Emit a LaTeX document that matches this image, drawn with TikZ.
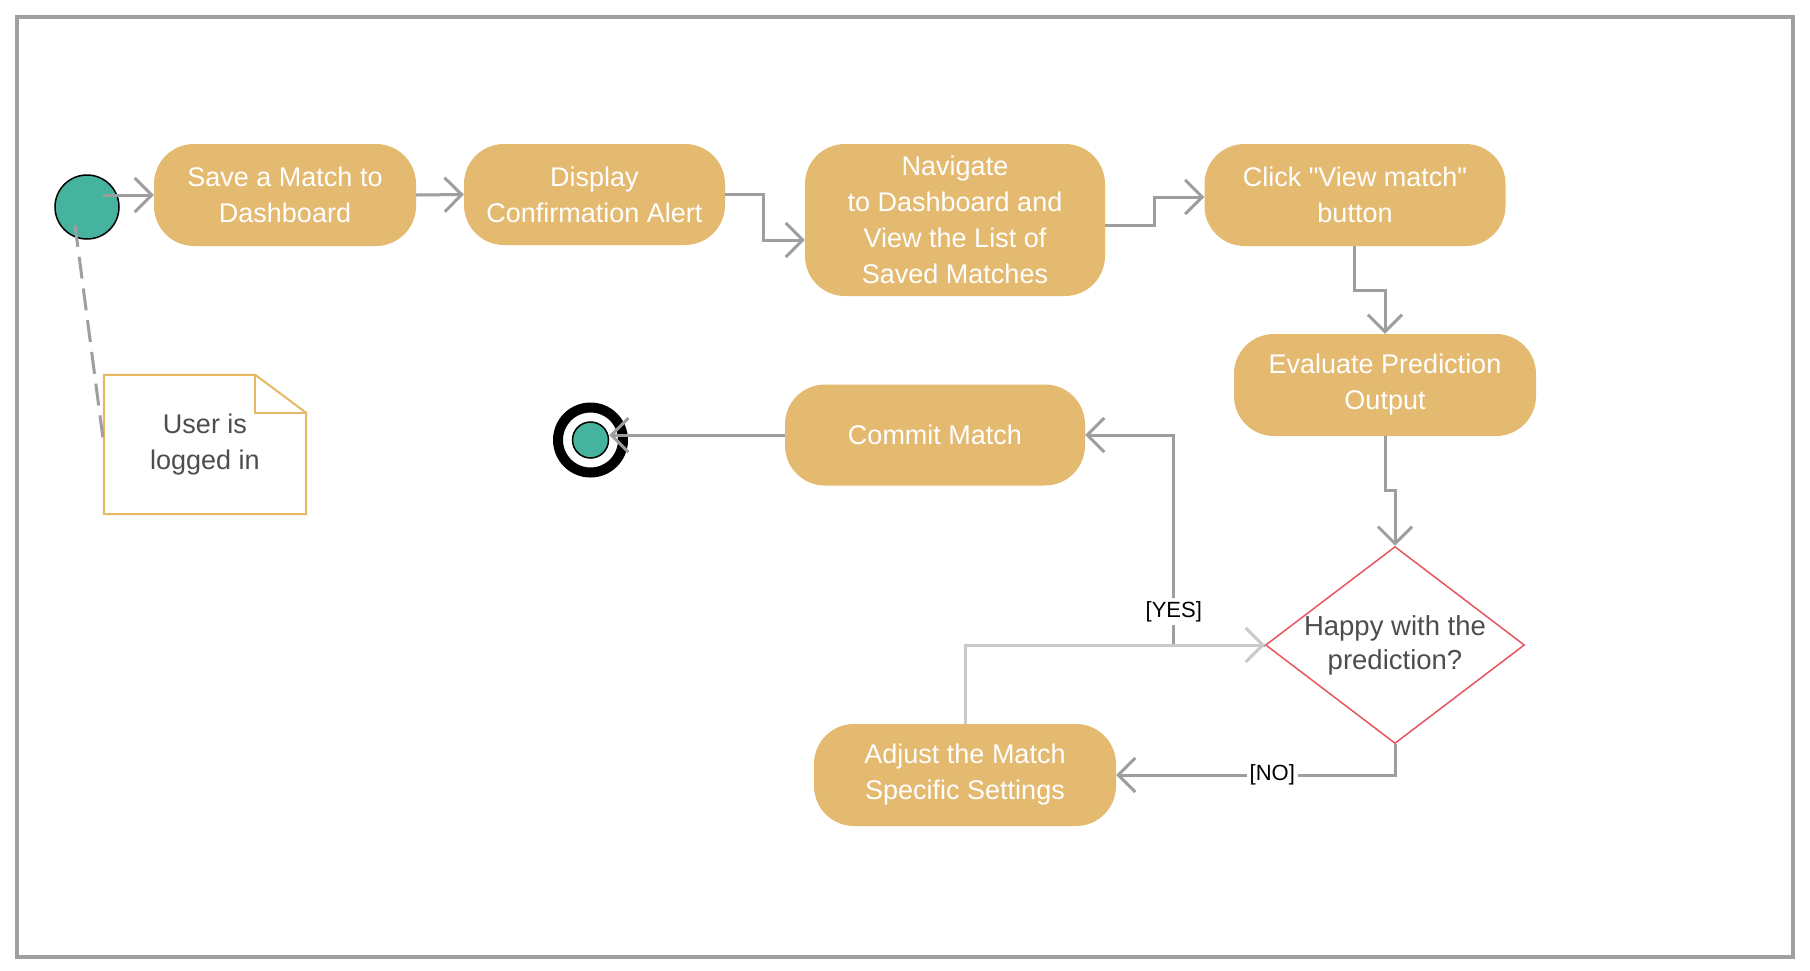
\documentclass[tikz,border=0pt]{standalone}
\usepackage{fontspec}
\setmainfont{Liberation Sans}
\usetikzlibrary{arrows.meta,shapes.geometric,calc}
\definecolor{actfill}{RGB}{228,185,112}
\definecolor{teal1}{RGB}{69,179,157}
\definecolor{conngray}{RGB}{158,158,158}
\definecolor{lightconn}{RGB}{202,202,202}
\definecolor{notecol}{RGB}{230,184,98}
\definecolor{deccol}{RGB}{232,84,96}
\definecolor{txtgray}{RGB}{77,77,77}
\definecolor{framecol}{RGB}{160,160,160}
\tikzset{
  act/.style={rectangle, rounded corners=40pt, fill=actfill, text=white, align=center,
    font=\fontsize{27}{36}\selectfont, inner sep=0pt},
  conn/.style={draw=conngray, line width=3pt, -{Straight Barb[length=17pt,width=34pt]}},
  lconn/.style={draw=lightconn, line width=3pt, -{Straight Barb[length=17pt,width=34pt]}},
  lbl/.style={fill=white, text=black, font=\fontsize{22}{26}\selectfont, inner sep=3pt},
}
\begin{document}
\begin{tikzpicture}[x=1pt,y=-1pt]
\useasboundingbox (0,0) rectangle (1810,970);
\fill[white] (0,0) rectangle (1810,970);
\draw[framecol, line width=4pt] (17,17) rectangle (1793,957);

% nodes
\node[circle, fill=teal1, draw=black, line width=1.5pt, minimum size=64pt, inner sep=0pt] (start) at (87,207) {};
\node[act, minimum width=262pt, minimum height=102pt] (save) at (285,195) {Save a Match to\\Dashboard};
\node[act, minimum width=261pt, minimum height=101pt] (disp) at (594.5,194.5) {Display\\Confirmation Alert};
\node[act, minimum width=300pt, minimum height=152pt] (nav) at (955,220) {Navigate\\to Dashboard and\\View the List of\\Saved Matches};
\node[act, minimum width=301pt, minimum height=102pt] (click) at (1355,195) {Click \textquotedbl View match\textquotedbl\\button};
\node[act, minimum width=302pt, minimum height=102pt] (eval) at (1385,385) {Evaluate Prediction\\Output};
\node[act, minimum width=300pt, minimum height=101pt] (commit) at (935,435) {Commit Match};
\node[act, minimum width=302pt, minimum height=102pt] (adjust) at (965,775) {Adjust the Match\\Specific Settings};
\node[diamond, draw=deccol, line width=1.5pt, fill=white, minimum width=259pt, minimum height=197pt, inner sep=0pt,
  text=txtgray, font=\fontsize{27.5}{36}\selectfont] (dec) at (1395,645)
  {\makebox[0pt][c]{\begin{tabular}{@{}c@{}}Happy with the\\[-2pt]prediction?\end{tabular}}};

% final node
\node[circle, draw=black, line width=10pt, fill=white, minimum size=65pt, inner sep=0pt] (end) at (590.5,440) {};
\node[circle, draw=black, line width=1.5pt, fill=teal1, minimum size=36pt, inner sep=0pt] (endin) at (end.center) {};

% note
\node[minimum width=202pt, minimum height=139pt, inner sep=0pt, align=center, text=txtgray,
  font=\fontsize{27}{36}\selectfont] (note) at (205,444.5) {User is\\logged in};
\draw[notecol, line width=2pt, line join=miter]
  (note.south west) -- (note.north west) -- ([xshift=-51pt]note.north east)
  -- ([yshift=-38pt]note.north east) -- (note.south east) -- cycle;
\draw[notecol, line width=2pt]
  ([xshift=-51pt]note.north east) -- ([xshift=-51pt,yshift=-38pt]note.north east)
  -- ([yshift=-38pt]note.north east);

% connectors
\draw[conngray, line width=3pt, dash pattern=on 22pt off 10pt]
  ([xshift=-12pt,yshift=-18pt]start.center) -- (note.west);
\draw[conn] ([xshift=16pt,yshift=12pt]start.center) -- (save.west);
\draw[conn] (save.east) -- (disp.west);
\draw[conn] (disp.east) -- ++(38,0) |- ([yshift=-20pt]nav.west);
\draw[conn] ([yshift=-5pt]nav.east) -- ++(49,0) |- ([yshift=-2pt]click.west);
\draw[conn] ([xshift=-1pt]click.south) -- ++(0,44) -| (eval.north);
\draw[conn] (eval.south) -- ++(0,54) -| (dec.north);
\draw[conn] (dec.west) -- ++(-91,0) |- (commit.east) node[lbl, pos=0.08] {[YES]};
\draw[lconn] (adjust.north) |- (dec.west);
\draw[conn] (dec.south) |- (adjust.east) node[lbl, pos=0.72] {[NO]};
\draw[conn] (commit.west) -- (commit.west -| endin.east);
\end{tikzpicture}
\end{document}
